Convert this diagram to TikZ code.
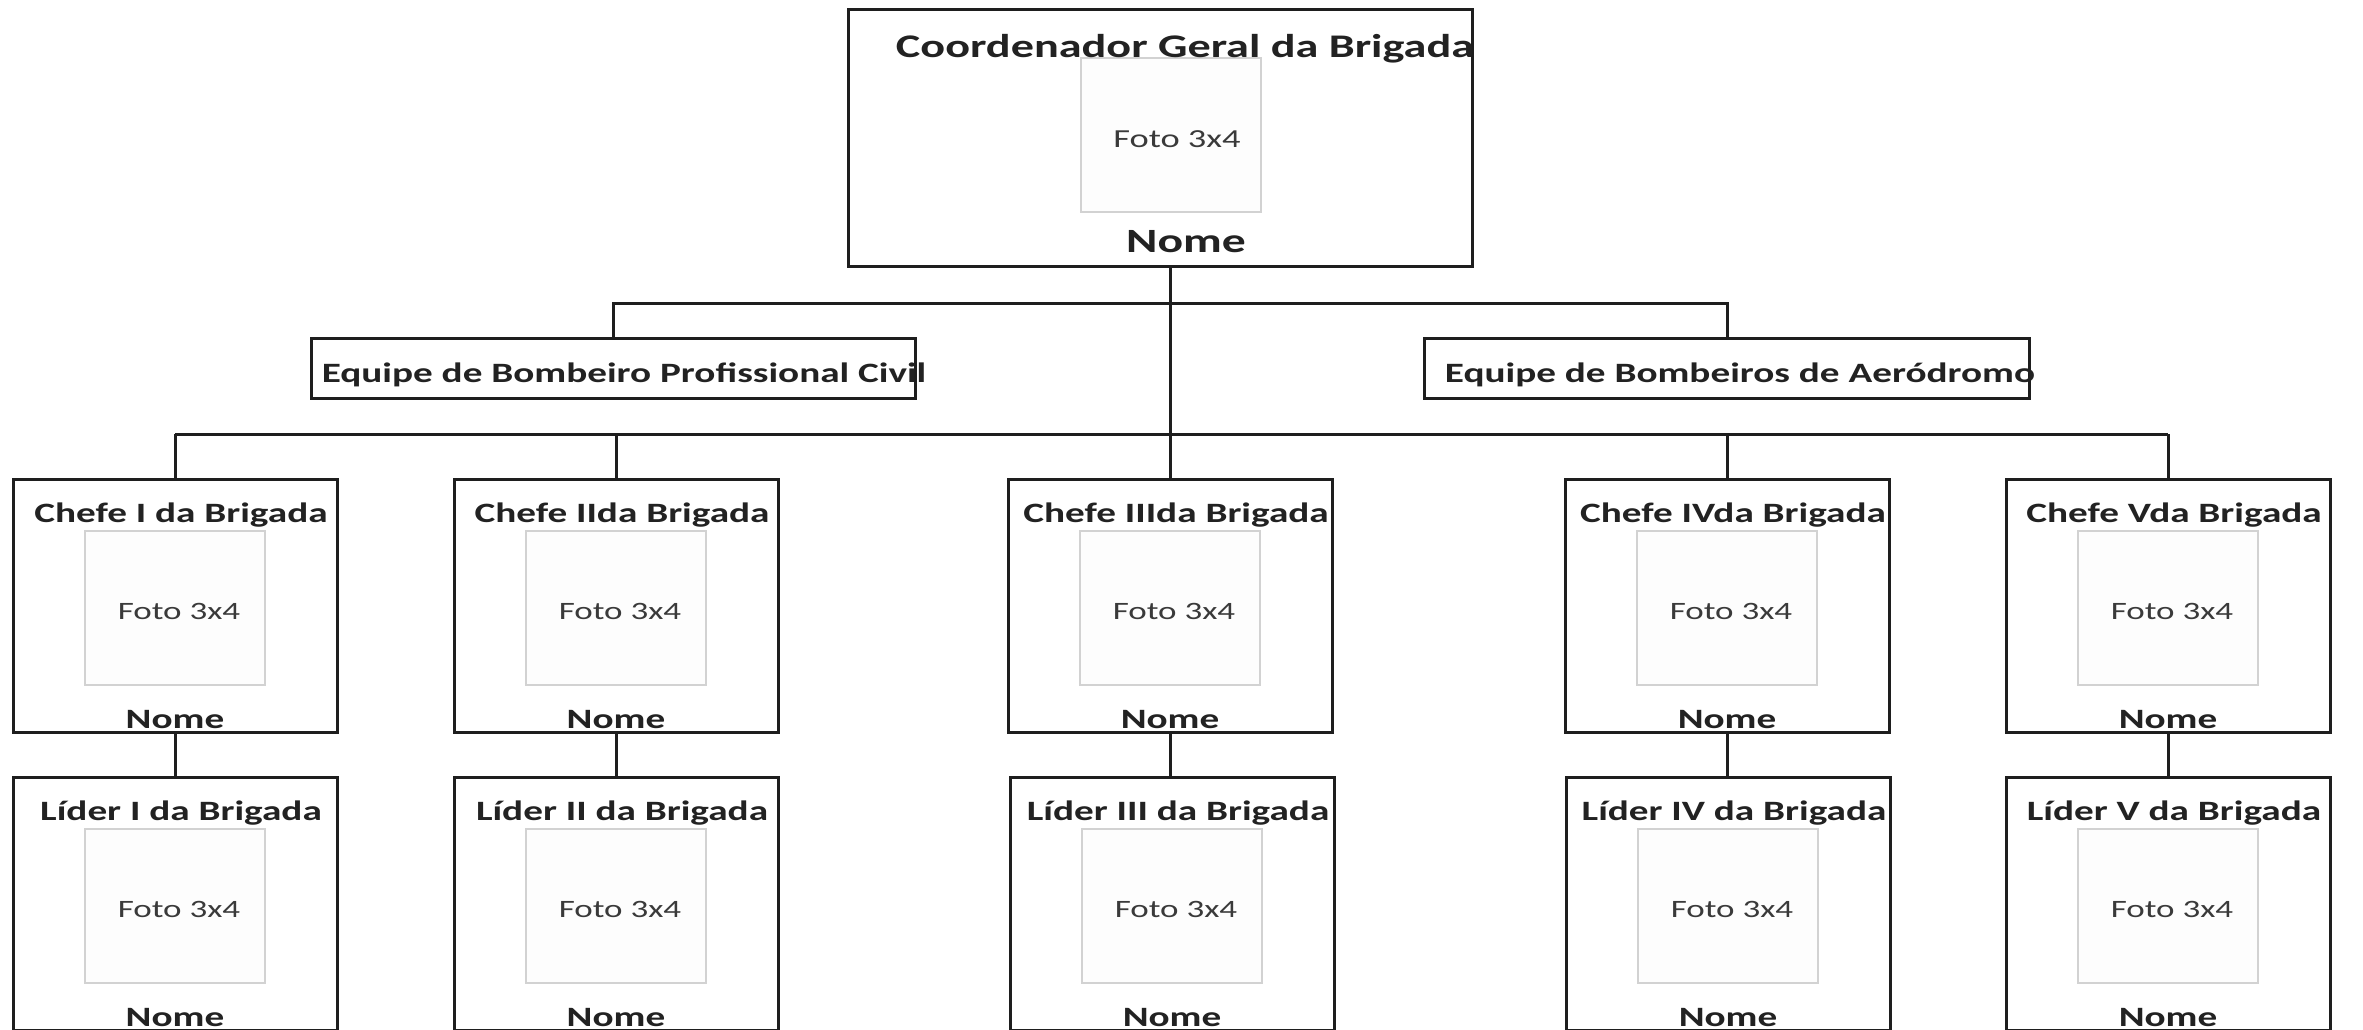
\documentclass[tikz,border=0pt]{standalone}
\usepackage{fontspec}
\usepackage{graphicx}
\setmainfont{Carlito}
\usetikzlibrary{calc}
\definecolor{linec}{HTML}{1E1E1E}
\definecolor{textc}{HTML}{222222}
\definecolor{fotoc}{HTML}{3A3A3A}
\definecolor{photoc}{HTML}{D2D2D2}
\definecolor{photof}{HTML}{FDFDFD}
\newcommand{\hstretch}[1]{\scalebox{1.4}[1]{#1}}
\tikzset{
  frame/.style={draw=linec, line width=3pt, rectangle, inner sep=0pt, fill=white},
  photobox/.style={draw=photoc, fill=photof, line width=2pt, rectangle, inner sep=0pt,
                   minimum width=180pt, minimum height=154pt},
  ttl/.style={font=\fontsize{28}{30}\selectfont\bfseries, text=textc, inner sep=0pt},
  bigttl/.style={font=\fontsize{33}{35}\selectfont\bfseries, text=textc, inner sep=0pt},
  fototxt/.style={font=\fontsize{25}{27}\selectfont, text=fotoc, inner sep=0pt},
  bigfoto/.style={font=\fontsize{26}{28}\selectfont, text=fotoc, inner sep=0pt},
  nometxt/.style={font=\fontsize{28}{30}\selectfont\bfseries, text=textc, inner sep=0pt},
  bignome/.style={font=\fontsize{34}{36}\selectfont\bfseries, text=textc, inner sep=0pt},
  link/.style={draw=linec, line width=3pt}
}
\newcommand{\personcard}[4]{%
  \node[frame, minimum width=324pt, minimum height=253pt, anchor=north] (#1) at (#2,#3) {};
  \node[photobox, anchor=north] (#1p) at ($(#1.north)+(0,52)$) {};
  \node[ttl, anchor=base] (#1t) at ($(#1.north)+(6,44)$) {\hstretch{#4}};
  \node[fototxt, anchor=base] (#1f) at ($(#1.north)+(4,141)$) {\hstretch{Foto 3x4}};
  \node[nometxt, anchor=base] (#1n) at ($(#1.north)+(0,250)$) {\hstretch{Nome}};
}
\begin{document}
\begin{tikzpicture}[x=1pt,y=-1pt]
\useasboundingbox[fill=white] (0,0) rectangle (2363,1029);

% bus coordinates
\coordinate (bus1) at (0,303);
\coordinate (bus2) at (0,434);

% top box
\node[frame, minimum width=624pt, minimum height=257pt, anchor=north] (top) at (1160,8) {};
\node[photobox, anchor=north] (topp) at (1171,57) {};
\node[bigttl, anchor=base] (topt) at (1185,57) {\hstretch{Coordenador Geral da Brigada}};
\node[bigfoto, anchor=base] (topf) at (1177,147) {\hstretch{Foto 3x4}};
\node[bignome, anchor=base] (topn) at (1186,252) {\hstretch{Nome}};

% equipes
\node[frame, minimum width=604pt, minimum height=60pt, anchor=north] (eqL) at (613,337) {};
\node[ttl, anchor=base] (eqLt) at (624,382) {\hstretch{Equipe de Bombeiro Profissional Civil}};
\node[frame, minimum width=605pt, minimum height=60pt, anchor=north] (eqR) at (1727,337) {};
\node[ttl, anchor=base] (eqRt) at (1740,382) {\hstretch{Equipe de Bombeiros de Aeródromo}};

% chefes
\personcard{c1}{175}{478}{Chefe I da Brigada}
\personcard{c2}{616}{478}{Chefe IIda Brigada}
\personcard{c3}{1170}{478}{Chefe IIIda Brigada}
\personcard{c4}{1727}{478}{Chefe IVda Brigada}
\personcard{c5}{2168}{478}{Chefe Vda Brigada}

% lideres
\personcard{l1}{175}{776}{Líder I da Brigada}
\personcard{l2}{616}{776}{Líder II da Brigada}
\personcard{l3}{1172}{776}{Líder III da Brigada}
\personcard{l4}{1728}{776}{Líder IV da Brigada}
\personcard{l5}{2168}{776}{Líder V da Brigada}

% connectors
\draw[link] (top.south -| c3.north) -- (c3.north);
\draw[link] (eqL.north) -- (eqL.north |- bus1) -- (eqR.north |- bus1) -- (eqR.north);
\draw[link] (c1.north |- bus2) -- (c5.north |- bus2);
\foreach \c in {c1,c2,c4,c5}{
  \draw[link] (\c.north |- bus2) -- (\c.north);
}
\foreach \c/\l in {c1/l1,c2/l2,c3/l3,c4/l4,c5/l5}{
  \draw[link] (\c.south) -- (\c.south |- \l.north);
}
\end{tikzpicture}
\end{document}
